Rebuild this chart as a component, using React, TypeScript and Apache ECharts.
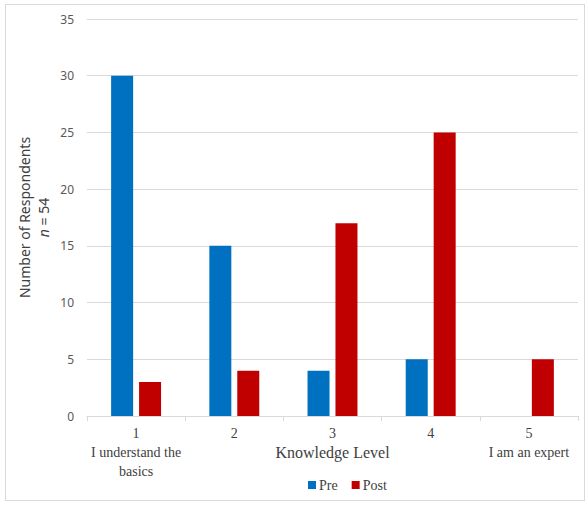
import React, { useEffect, useRef } from "react";
import * as echarts from "echarts";

const categories = ["1", "2", "3", "4", "5"];
const subLabels = ["I understand the\nbasics", "", "", "", "I am an expert"];
const preValues = [30, 15, 4, 5, 0];
const postValues = [3, 4, 17, 25, 5];
const seriesNames = ["Pre", "Post"];

export default function App() {
  const ref = useRef<HTMLDivElement>(null);
  useEffect(() => {
    if (!ref.current) return;
    const chart = echarts.init(ref.current, null, { renderer: "svg" });
    const serif = "'Liberation Serif', 'DejaVu Serif', serif";
    const sans = "'Noto Sans', 'Open Sans', sans-serif";
    chart.setOption({
      animation: false,
      backgroundColor: "transparent",
      grid: { left: 87, right: 10, top: 19, bottom: 90, containLabel: false },
      legend: {
        data: seriesNames,
        bottom: 9,
        left: 303,
        itemWidth: 8,
        itemHeight: 8,
        itemGap: 14,
        icon: "rect",
        textStyle: { fontFamily: serif, fontSize: 14, color: "#404040", padding: [0, 0, 0, -2] },
      },
      xAxis: {
        type: "category",
        data: categories,
        name: "Knowledge Level",
        nameLocation: "middle",
        nameGap: 28,
        nameMoveOverlap: false,
        nameTextStyle: { fontFamily: serif, fontSize: 16, color: "#404040" },
        axisLine: { lineStyle: { color: "#D9D9D9" } },
        axisTick: { show: true, length: 5, lineStyle: { color: "#D9D9D9" } },
        axisLabel: {
          fontFamily: serif,
          fontSize: 14,
          color: "#404040",
          lineHeight: 19,
          margin: 8,
          interval: 0,
          formatter: (v: string, i: number) => (subLabels[i] ? v + "\n" + subLabels[i] : v),
        },
      },
      yAxis: {
        type: "value",
        min: 0,
        max: 35,
        interval: 5,
        name: "Number of Respondents\n{i|n} = 54",
        nameLocation: "middle",
        nameGap: 34,
        nameMoveOverlap: false,
        nameTextStyle: {
          fontFamily: sans,
          fontSize: 14,
          color: "#404040",
          lineHeight: 19,
          rich: { i: { fontFamily: sans, fontSize: 14, fontStyle: "italic", color: "#404040" } },
        },
        axisLine: { show: false },
        axisTick: { show: false },
        splitLine: { lineStyle: { color: "#D9D9D9" } },
        axisLabel: { fontFamily: sans, fontSize: 12, color: "#595959", margin: 13 },
      },
      series: [
        {
          name: seriesNames[0],
          type: "bar",
          data: preValues,
          barWidth: 22,
          barGap: "27%",
          itemStyle: { color: "#0070C0" },
        },
        {
          name: seriesNames[1],
          type: "bar",
          data: postValues,
          barWidth: 22,
          itemStyle: { color: "#C00000" },
        },
      ],
    });
    return () => chart.dispose();
  }, []);
  return (
    <div style={{ position: "fixed", left: 0, top: 0, width: 588, height: 506, background: "#fff" }}>
      <div ref={ref} style={{ position: "absolute", left: 0, top: 0, width: 588, height: 506 }} />
      <div
        style={{
          position: "absolute",
          left: 5,
          top: 4,
          width: 580,
          height: 497,
          border: "1px solid #D9D9D9",
          boxSizing: "border-box",
          pointerEvents: "none",
        }}
      />
    </div>
  );
}
